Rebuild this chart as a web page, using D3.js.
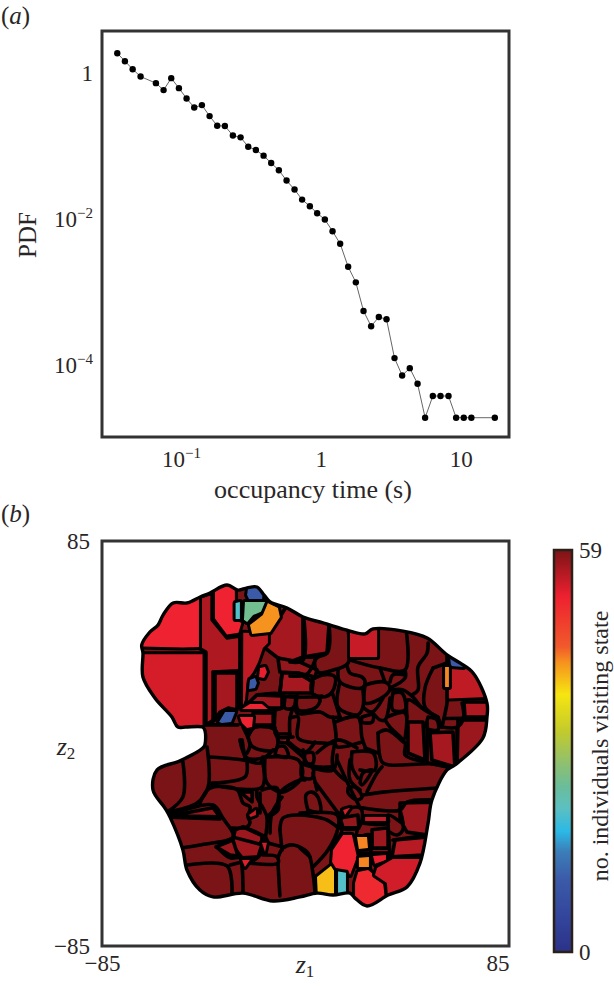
<!DOCTYPE html>
<html><head><meta charset="utf-8">
<script src="https://cdn.jsdelivr.net/npm/d3@7"></script>
<style>html,body{margin:0;padding:0;background:#fff}svg{display:block}text{font-family:"Liberation Serif",serif;fill:#2a2627}</style>
</head><body><div id="c"></div>
<script>
// ---------- panel (a) data ----------
const occupancyTime=[0.0351,0.0398,0.0452,0.0515,0.0663,0.0752,0.0853,0.0968,0.1098,0.1245,0.1413,0.1603,0.1817,0.2062,0.2352,0.2669,0.3027,0.3434,0.3897,0.4416,0.5012,0.5689,0.6486,0.7345,0.8345,0.941,1.068,1.212,1.374,1.567,1.778,2.018,2.287,2.596,2.946,3.36,3.81,4.32,4.91,5.56,6.31,7.16,8.17,9.26,10.5,11.9,17.5];
const pdfValues=[1.858,1.445,1.123,0.89,0.723,0.581,0.846,0.618,0.446,0.336,0.362,0.256,0.189,0.187,0.139,0.131,0.0977,0.0881,0.0736,0.0585,0.0464,0.0336,0.0253,0.01845,0.01496,0.012,0.00984,0.00681,0.00458,0.00222,0.00136,0.000551,0.000341,0.000456,0.000425,0.000125,7.23e-5,9.1e-5,5.56e-5,1.91e-5,3.78e-5,3.78e-5,3.78e-5,1.91e-5,1.91e-5,1.91e-5,1.91e-5];
const xTicksA=[0.1,1,10], yTicksA=[1,0.01,0.0001];
// ---------- panel (b) data: state map in (z1,z2) ----------
const outline=[[-68.4,41.4],[-65,46.8],[-61.6,49.7],[-59.5,53.9],[-55.3,59],[-49.5,59],[-44,61.5],[-39.9,63.2],[-32.8,66.5],[-28.2,64.4],[-24.4,65.3],[-20.3,65.7],[-17.3,62.3],[-14.8,59.4],[-7.7,56.9],[-1,53.1],[7.3,50.6],[18.6,47.2],[24.9,46],[28.2,48.1],[40.7,47.2],[50.8,44.3],[59.1,37.2],[64.5,33.8],[70,29.6],[75.8,17],[75.8,11.1],[74.1,2.3],[62.4,-9],[59.1,-11.1],[52.8,-23.7],[51.2,-33.4],[47.8,-50.2],[42.4,-60.2],[34.5,-63.6],[25.7,-68.2],[20.7,-64.9],[18.6,-62.8],[11.5,-63.6],[4.8,-62.8],[-2.3,-64.4],[-13.6,-66.1],[-26.1,-62.8],[-38.6,-64.4],[-44.1,-61.5],[-49.5,-53.1],[-51.2,-44.7],[-56.6,-30.9],[-58.7,-27.1],[-63.7,-19.5],[-62,-11.1],[-52.4,-7.3],[-43,-2],[-42,-0.5],[-42,5.5],[-43,6.9],[-50,6.9],[-53.3,6.9],[-55.8,11.1],[-62.9,19.1],[-67.9,27.9],[-67.9,38]];
const baseVisits=59;
const stateVisits=[56,56.5,57,52,53.7,52,55,10.6,25,20.5,42.5,10.6,52,52,10.6,52.5,56.5,57,54.5,57.5,56.5,57,55,10.6,43,56,57.2,56.5,57.5,56.5,53,54,54.5,57,57,57.3,40,20.5,52,51,43,43,52.5,54,55.5,57,54.5,53.5,57,57.5,56.5];
const statePolygons=[
[[-44,61.5],[-39,63.2],[-39,51.9],[-32.8,44.3],[-27.4,45.1],[-27.4,15.3],[-35.5,14],[-38.4,9.9],[-41.6,7.8],[-41.6,38.4],[-44,39.7]],
[[-37.8,29.6],[-28.6,29.6],[-28.6,14.1],[-32.3,14.9],[-35.7,13.2],[-37.8,9.9]],
[[-20.3,20.4],[-9.8,20],[-9.8,14.9],[-18,14.9],[-26,14.9]],
[[-70,41],[-65,48],[-61.6,51],[-60,55],[-55.3,60],[-49.5,60],[-44.5,62],[-44.5,40.5],[-51.2,40.3],[-70,40.7]],
[[-70,37.5],[-44.5,37.5],[-43,37.5],[-43,7.8],[-53.3,6],[-56.5,10.5],[-64,19],[-69,27.9]],
[[-37.8,65],[-32.8,67.5],[-29.5,65],[-29.5,51.9],[-26.8,50.6],[-28,46.5],[-32.8,45.8],[-37.8,52.5]],
[[-26,46.5],[-15.7,46],[-15.7,42.2],[-17.8,40.1],[-19.8,34.2],[-21.9,30],[-24.4,26.7],[-25.3,18.3],[-26.1,16]],
[[-24.4,62.3],[-24,65.3],[-20.3,65.7],[-17.8,63.2],[-18.2,60.2],[-23.2,59.8]],
[[-25.3,59.4],[-16.9,59.4],[-16.9,56],[-21.9,53.9],[-24.4,51],[-25.7,51.9]],
[[-29.2,59],[-27.4,59.4],[-27.4,52.3],[-29.2,52.3]],
[[-15.7,59],[-11.5,56.9],[-10.7,53.1],[-14.8,46.8],[-22.3,46],[-23.2,49.7],[-17.8,53.9]],
[[-36.1,9],[-33.6,13.2],[-29.4,13.2],[-31.1,9],[-34.9,8.6]],
[[-26.5,14.5],[-23.2,16.6],[-18.2,16.6],[-15.7,14.5]],
[[-27.4,11.1],[-21.9,11.1],[-22.3,6.9],[-24.4,6.5],[-26.5,8.6]],
[[-23.6,22.9],[-23.2,26.7],[-21.1,27.5],[-20.3,25.4],[-21.1,23.3]],
[[-19.4,27.9],[-19,31.7],[-16.9,32.1],[-16.1,30],[-17.3,27.5]],
[[-10.7,53.1],[-7.7,57.9],[-1,54],[-1,36.3],[-6.5,34.2],[-11.5,35.9],[-16.9,40.1],[-14.8,46.8]],
[[-1,54],[7.3,51.5],[9.8,49.9],[9,38],[-1,36.3]],
[[18.6,48],[24.9,46.5],[29.9,49],[29.9,36.3],[18.6,36.3]],
[[-11.5,35.9],[-2.3,34.2],[4.8,30.9],[4,27.9],[-3.1,29.6],[-10.7,30]],
[[-11.5,0.6],[-11.9,4],[-6.5,4],[-7.7,0.2]],
[[-21.9,12.8],[-21.9,7.7],[-13.5,7.7],[-13.5,12.8]],
[[59.9,31],[65.4,32.5],[71,29.5],[76,19.5],[59.9,18.9]],
[[60.4,36.3],[61.6,37.8],[65,34.5],[66,32.1],[60.8,32.5]],
[[58.3,32.1],[59.9,32.1],[59.9,23.7],[58.3,23.7]],
[[66.2,17.4],[78,17.4],[78,11.1],[66.6,11.1]],
[[63.7,9.9],[77,9.9],[76,2.3],[63.3,-9]],
[[52,4.5],[61.6,4.8],[62.4,-9.9],[52.8,-6.9]],
[[42.8,9],[49.1,9],[49.9,-6.9],[42.8,-4]],
[[-27.4,-20.3],[-22.3,-20.3],[-22.3,-24.5]],
[[-26.5,-48.9],[-23.2,-48.9],[-25.3,-51.8]],
[[-18.2,-41.7],[-16.1,-41.7],[-16.9,-45.5]],
[[-23.6,-30],[-20.7,-27.9],[-20.7,-30],[-22.9,-30.8]],
[[-29.4,-36.2],[-26.1,-35],[-18.2,-38.7],[-18.2,-42.5],[-19.8,-47.6],[-26.5,-48],[-30.7,-42.5]],
[[-37.4,-43.4],[-30.3,-40.5],[-28.2,-47.2],[-31.5,-46.8]],
[[-56.6,-30.4],[-38.6,-27],[-35.7,-30.8]],
[[4.8,-56],[11.1,-51],[11.9,-52.3],[11.9,-65],[5.2,-65]],
[[13.6,-53.5],[16.9,-53.5],[16.9,-65],[13.6,-65]],
[[11.5,-44.7],[15.7,-38.4],[19.4,-38.4],[21.5,-47.6],[18.6,-55.2],[17.8,-53.1],[12.7,-52.3],[11.1,-49.7]],
[[20.7,-58.6],[22,-53.9],[26.1,-53.1],[29.9,-56],[32.4,-58.6],[33.2,-65],[25.7,-69],[20.7,-65]],
[[21.5,-39.2],[25.7,-39.2],[26.1,-43.9],[22.3,-44.3]],
[[22.3,-48],[26.5,-47.6],[26.5,-51.8],[22.3,-51.8]],
[[28.2,-47.2],[33.6,-46.8],[33.6,-48.9],[29,-50.5]],
[[29,-55.2],[29.9,-52.3],[36.5,-48.5],[49,-48.5],[48,-53],[42,-62],[34.5,-65],[34,-58.6]],
[[36.1,-47.6],[37.4,-40.5],[51,-39.2],[49,-46.8]],
[[39.5,-25],[53,-24.6],[53,-33],[51,-38.4],[42.4,-37.2],[39.5,-32.1]],
[[24.9,-30.9],[33.6,-30.9],[33.6,-32.5],[24.9,-32.5]],
[[15.7,-27.9],[18.6,-27],[16.5,-30]],
[[27.8,-36.2],[34.5,-35.4],[34.5,-43.9],[27.8,-43.9]],
[[14.4,-31.3],[21.9,-30],[22.3,-35.4],[15.7,-35.4]],
[[-9.8,29.6],[-3.1,29.6],[3.1,25.8],[2.7,21.2],[-10.7,21.2]]
];
const boundaries=[
[[-6.5,34.2],[-1,35],[-1,55]],[[-1,36.3],[9,38],[9.8,50]],[[9,38],[4,35],[5.2,30],[13.2,31.3],[17.8,33.8],[17.8,48]],[[-6.5,28.3],[0.6,29.2],[4,35]],
[[2.7,26.7],[2.7,21.2],[6.9,19.5],[11.1,21.6],[12.3,27.9],[7.3,28.8],[2.7,26.7]],
[[13.6,30.9],[14.4,25.8],[23.6,23.3],[24.9,25.8],[23.6,27.9],[18.6,29.6],[17.3,33]],
[[14.4,25.8],[13.6,15.3],[21.9,12.1],[24,15.3],[24,22.5]],[[11.1,21.6],[14.4,11.1]],
[[-6.5,19.5],[2.7,19.5],[6.9,19.9]],[[-3.6,19.5],[-3.6,12.8],[6.1,13.2],[10.2,11.1],[14.4,11.1]],
[[-6.5,10.7],[-3.1,11.1],[-3.1,2.3],[7.3,0.2],[12.3,0.6],[11.5,11.1]],[[12.3,9],[21.9,11.1],[23.6,2.3],[24.9,-1.5]],[[12.3,0.6],[13.2,-1.4],[23.6,0.6]],
[[24.9,24.6],[33.2,25.8],[35.3,23.3],[32.4,19.5],[24.9,17],[24.9,24.6]],[[24,15.3],[27.8,13.2],[32.4,19.1]],
[[23.6,11.1],[28.2,12],[27.8,9],[23.6,9],[23.6,11.1]],[[28.2,12.8],[31.1,9.9],[33.2,9.9],[35.3,19.1]],
[[35.3,23.3],[41.6,27.5],[41.6,30.9]],[[36.1,22.5],[40.7,22.5],[44.9,19.5],[48.7,14.9],[55.3,11.1]],
[[36.5,21.2],[36.5,14.1],[41.6,14.1],[40.3,21.2],[36.5,21.2]],
[[33.2,9.9],[35.3,6.9],[41.6,0.2],[41.6,-4.8],[49.9,-7.8],[59.1,-9.9]],[[34,11.1],[41.6,12.8],[41.6,2.3]],[[42.4,11.1],[42.8,18.3],[48.7,14.9]],
[[30.3,4.4],[32,-7.8],[35.3,-9],[53.3,-8.6],[61.6,-10.3]],[[30.3,4.4],[34,5.7],[40.7,0.7]],[[24.9,-1.9],[30.3,-4]],
[[51.2,11.1],[50.8,6.5],[55.3,5.7],[54.9,9.9],[51.2,11.1]],[[55.3,11.1],[57,6.9]],
[[53.3,31.7],[49.9,23.3],[49.9,15.3],[55.3,11.1]],[[53.3,31.7],[59.1,33.8]],[[51.2,42.2],[50.8,38],[47,32.1],[47,22.5],[44.5,20.4]],
[[18.6,35],[31.1,31.7],[41.6,30.9],[42,48]],[[31.1,31.7],[33.2,25.8]],[[35.3,25.8],[36.5,28.8],[41.6,28.8]],
[[59.1,38],[59.1,18.3],[59.1,17],[57,6.9]],[[65.4,17],[66,10.7],[63.3,6.9],[57,6.9]],[[58.3,10.5],[78,10.7]],[[63.3,6.9],[63.3,-9.9]],[[50.8,8.6],[50.8,-6.9]],
[[-1,-2.7],[0.6,-8.2],[4.8,-9.8],[11.5,-9.8]],[[-6.5,0.2],[-0.2,-3.6],[4,0.6]],[[12.3,0.2],[11.5,-9.8],[16.5,-15.3]],
[[19.4,-3.6],[28.2,-4],[29,-11.1],[22.8,-11.1]],[[19.4,-3.6],[19.4,-9.8],[21.9,-14.5]],
[[-51.2,-7.8],[-51.2,-22.4],[-57.9,-28.8]],[[-41.1,-1.5],[-40.7,-18.3],[-45.3,-25],[-57.9,-28.8]],
[[-39.9,-5.7],[-26.1,-6.9],[-19,-8.2],[-17.8,-5.7]],[[-26.5,1.5],[-25.3,-6.1]],[[-24.4,-8.2],[-25.3,-14.1],[-39.1,-16.6]],[[-39.1,-17.4],[-18.2,-18.3],[-17.8,-8.2]],
[[-44.1,-25],[-39.9,-18.7],[-28.6,-19.4],[-26.1,-25],[-23.2,-26.6],[-24,-30.9],[-23.2,-33],[-24.4,-35],[-30.7,-35.5]],
[[-56.6,-30],[-38.6,-25.8],[-34.5,-31.3],[-31.5,-35.5]],[[-56.6,-30.9],[-35.7,-31.7]],[[-52.4,-43.9],[-44.1,-42.6],[-30.3,-39.3],[-31.5,-35.5]],
[[-37,-43.4],[-31.5,-48],[-27.4,-48],[-26.5,-51.8],[-26.1,-63]],[[-49.5,-51],[-32.8,-51.4],[-30.7,-63]],[[-31.5,-51],[-26.5,-49.7]],[[-30.3,-39.3],[-17.8,-42.6]],
[[-26.1,-35],[-18.2,-38.4],[-16.1,-40.5],[-19,-46.8],[-23.2,-49.7],[-26.5,-49.7]],[[-23.2,-50.2],[-11.5,-50.2],[-11.9,-47.6],[-17.8,-46.8]],[[-11.5,-50.2],[-10.7,-64]],
[[-11.5,-48],[-9.4,-43.9],[-5.2,-42.6],[1,-45.9],[3.1,-54.4],[4,-63]],[[-16.1,-41.7],[-9.4,-43.4]],
[[-16.9,-40.5],[-16.1,-30.9],[-17.8,-27],[-20.3,-22.4],[-20.3,-19.5]],[[-19,-20.8],[-19,-29.2]],[[-18.2,-19.5],[-11.9,-18.7],[-11.9,-25.8],[-16.1,-30.9]],
[[-16.1,-30.9],[-11.5,-27.9],[-10.7,-20.8],[-2.3,-15.3],[-0.2,-15.3]],
[[-10.7,-36.2],[-9.4,-31.3],[-3.6,-30],[9,-32.1],[13.2,-35],[15.2,-36.2],[10.2,-43.9]],[[-10.7,-36.2],[-9.8,-44.7]],[[-14.8,-37.6],[-14,-29.2],[-9.8,-22.5]],
[[1,-27.9],[0.2,-21.6],[2.7,-20.4],[5.2,-22.5],[6.1,-28.8],[1,-27.9]],[[3.1,-12.4],[4.8,-19.5]],[[4,-16.2],[15.2,-31.3]],
[[-1.5,-8.2],[-1.5,-14],[2.7,-14.5],[3.1,-10.3],[-0.2,-9],[-1.5,-8.2]],[[-0.2,-4],[-0.2,-8.2],[3.1,-8.2],[3.1,-4],[-0.2,-4]],
[[-16.9,-5.7],[-3.1,-6.9],[-1.5,-14],[-9.8,-20.4],[-16.1,-16.6],[-16.9,-5.7]],[[-27.4,1.5],[-24.4,-6.1],[-16.9,-5.7],[-13.6,-2.7]],
[[-24,2.7],[-21.9,-1.5],[-12.7,-2.7],[-11.5,1.5],[-12.7,5.7],[-21.1,6.9],[-24,2.7]],
[[-12.7,-4.8],[-11.5,-1.4],[-8.6,-1.4],[-7.3,-5.7],[-12.7,-4.8]],[[-7.7,0.2],[-1,-5.7]],[[4.8,-3.9],[13.2,1.5],[21.5,-1.9]],[[3.1,-10.3],[11.5,-11.1],[13.2,-4.8]],
[[-10.7,21.2],[-9.8,29.6]],[[-3.1,29.6],[3.1,25.8]],[[-19.8,20.4],[-9.4,20.4],[-9.8,14.9],[-26.1,15.3]],
[[-8.6,19.5],[-8.6,14.9],[-5.2,14.9],[-4.4,19.5],[-8.6,19.5]],[[-3.6,20.4],[-3.1,14.1],[4,14.9],[6.1,18.3],[4,20.4]],
[[-12.7,14.1],[-12.7,4.4],[-11.5,2.7],[-5.2,2.7]],[[-26.1,6.9],[-23.2,-0.6],[-24.4,-4]],[[-41.1,7.8],[-28.2,7.8]],[[-24,4.8],[-21.1,6.9],[-12.7,6.5]],[[-5.2,14.9],[-6.5,10.7],[-6.5,2.7]],[[-38.6,30],[-28.2,30.5]],[[-38.6,30],[-38.6,9]],
[[15.2,-27.9],[22.8,-27],[23.6,-32],[21.9,-35.4],[15.2,-35.4],[14.4,-31.3],[15.2,-27.9]],
[[23.6,-27],[39.5,-27.9],[42.4,-24.6],[54,-23.7]],[[24,-21.6],[32.4,-20.4],[56,-18.7]],[[25.7,-20.3],[29.9,-12.4],[32,-9.8]],
[[21.9,-35.4],[21.5,-39.2],[27,-38.4],[27,-52.3],[29,-56]],[[23.6,-33.4],[34.5,-33.4],[34.5,-30],[39.5,-32.9]],[[34.5,-34.2],[35.3,-48]],
[[35.3,-37.2],[38.2,-38.4],[40.7,-36.2],[39.5,-27.9]],[[36.5,-40.5],[51.2,-38.4]],[[35.3,-47.6],[47.8,-47.6]],[[21.5,-46],[35.3,-46]],[[-2.3,-43.9],[1.9,-47.6]],
[[-2.3,-29.2],[13.2,-30],[13.6,-35.4],[9.4,-44.7],[3.1,-51.8]],[[17.8,-18.7],[20.7,-18.3],[23.6,-22.5],[21.5,-23.7],[17.8,-20.8],[17.8,-18.7]],
[[13.2,-6.9],[18.6,-18.7],[22.8,-27]],[[22.8,-16.6],[24,-12.4],[27.8,-11.1],[23.6,-17.4],[22.8,-16.6]],[[18.6,-6.9],[18.6,-15.3],[22.8,-19.5]]
];
const colorValues=[59,52.2,44.8,42.5,37.8,32.5,27.7,24.2,21.2,17.7,14.8,10.6,5.3,0];
const colorStops=["#7b1416","#ee2030","#f15a2b","#f6921e","#f6e511","#c4cb2b","#8fc06f","#69bd9b","#5dc0c0","#2bb9e6","#3b7fb9","#3b5aa8","#33469c","#2b3288"];

const W=614,H=987;
const svg=d3.select("#c").append("svg").attr("width",W).attr("height",H);
const frame="#333";
const A={l:102,r:509,t:31,b:437}, B={l:102,r:509,t:541,b:946};
const tickFont=23;

function sup(sel,base,exp){sel.text(null);sel.append("tspan").text(base);
  if(exp){sel.append("tspan").attr("dy",-9).attr("font-size",15).text(exp);}}

// panel a
const xA=d3.scaleLog().domain([0.0273,22.1]).range([A.l,A.r]);
const yA=d3.scaleLog().domain([1.04e-5,3.74]).range([A.b,A.t]);
const gA=svg.append("g");
const line=d3.line().x(i=>xA(occupancyTime[i])).y(i=>yA(pdfValues[i]));
gA.append("path").attr("d",line(d3.range(occupancyTime.length))).attr("fill","none").attr("stroke","#666").attr("stroke-width",1);
gA.selectAll("circle").data(occupancyTime).join("circle").attr("cx",d=>xA(d)).attr("cy",(d,i)=>yA(pdfValues[i])).attr("r",3.2).attr("fill","#000");
gA.append("rect").attr("x",A.l).attr("y",A.t).attr("width",A.r-A.l).attr("height",A.b-A.t).attr("fill","none").attr("stroke",frame).attr("stroke-width",3);

const axXA=gA.append("g").attr("transform",`translate(0,${A.b})`).call(d3.axisBottom(xA).tickValues(xTicksA).tickSize(0).tickPadding(14));
axXA.select(".domain").remove();
axXA.selectAll("text").attr("font-size",tickFont).attr("font-family","Liberation Serif").attr("fill","#2a2627")
  .each(function(d){const s=d3.select(this); if(d===0.1){sup(s,"10","−1");} else s.text(d);});
const axYA=gA.append("g").attr("transform",`translate(${A.l},0)`).call(d3.axisLeft(yA).tickValues(yTicksA).tickSize(0).tickPadding(9));
axYA.select(".domain").remove();
axYA.selectAll("text").attr("font-size",tickFont).attr("font-family","Liberation Serif").attr("fill","#2a2627")
  .each(function(d){const s=d3.select(this); if(d===1) s.text("1"); else sup(s,"10","−"+Math.round(-Math.log10(d)));});
svg.append("text").attr("x",313).attr("y",498).attr("text-anchor","middle").attr("font-size",26).text("occupancy time (s)");
svg.append("text").attr("transform","translate(36,235) rotate(-90)").attr("text-anchor","middle").attr("font-size",25).text("PDF");
function panel(x,y,l){const t=svg.append("text").attr("x",x).attr("y",y).attr("font-size",25);
  t.append("tspan").text("(");t.append("tspan").attr("font-style","italic").text(l);t.append("tspan").text(")");}
panel(1,24,"a");panel(1,522,"b");

// panel b
const xB=d3.scaleLinear().domain([-85,85]).range([B.l,B.r]);
const yB=d3.scaleLinear().domain([-85,85]).range([B.b,B.t]);
const color=d3.scaleLinear().domain(colorValues).range(colorStops).clamp(true);
const path=d3.line().x(d=>xB(d[0])).y(d=>yB(d[1]));
const curved=d3.line().x(d=>xB(d[0])).y(d=>yB(d[1])).curve(d3.curveCatmullRom.alpha(0.5));
const outlineCurve=d3.line().x(d=>xB(d[0])).y(d=>yB(d[1])).curve(d3.curveCatmullRomClosed.alpha(0.5));
const gB=svg.append("g");
const sw=3.6;
svg.append("clipPath").attr("id","mapclip").append("path").attr("d",outlineCurve(outline));
gB.append("path").attr("d",outlineCurve(outline)).attr("fill",color(baseVisits));
const inner=gB.append("g").attr("clip-path","url(#mapclip)");
const states=statePolygons.map((p,i)=>({p,v:stateVisits[i]}));
inner.selectAll("path.s").data(states.filter(d=>d.v>=55.5)).join("path").attr("class","s").attr("d",d=>path(d.p)+"Z")
  .attr("fill",d=>color(d.v)).attr("stroke","#000").attr("stroke-width",sw).attr("stroke-linejoin","round");
inner.selectAll("path.b").data(boundaries).join("path").attr("class","b").attr("d",d=>curved(d))
  .attr("fill","none").attr("stroke","#000").attr("stroke-width",sw).attr("stroke-linejoin","round").attr("stroke-linecap","round");
inner.selectAll("path.h").data(states.filter(d=>d.v<55.5)).join("path").attr("class","h").attr("d",d=>path(d.p)+"Z")
  .attr("fill",d=>color(d.v)).attr("stroke","#000").attr("stroke-width",6).attr("stroke-linejoin","round").attr("paint-order","stroke");
gB.append("path").attr("d",outlineCurve(outline)).attr("fill","none").attr("stroke","#000").attr("stroke-width",3.4).attr("stroke-linejoin","round");
gB.append("rect").attr("x",B.l).attr("y",B.t).attr("width",B.r-B.l).attr("height",B.b-B.t).attr("fill","none").attr("stroke",frame).attr("stroke-width",3);
const axXB=gB.append("g").attr("transform",`translate(0,${B.b})`).call(d3.axisBottom(xB).tickValues([-85,85]).tickSize(0).tickPadding(9).tickFormat(d=>d<0?"−85":"85"));
axXB.select(".domain").remove();
axXB.selectAll("text").attr("font-size",tickFont).attr("font-family","Liberation Serif").attr("fill","#2a2627").attr("text-anchor",d=>d<0?"middle":"end");
const axYB=gB.append("g").attr("transform",`translate(${B.l},0)`).call(d3.axisLeft(yB).tickValues([-85,85]).tickSize(0).tickPadding(12).tickFormat(d=>d<0?"−85":"85"));
axYB.select(".domain").remove();
axYB.selectAll("text").attr("font-size",tickFont).attr("font-family","Liberation Serif").attr("fill","#2a2627");
function zlab(x,y,n){const t=svg.append("text").attr("x",x).attr("y",y).attr("text-anchor","middle").attr("font-size",26);
  t.append("tspan").attr("font-style","italic").text("z");t.append("tspan").attr("dy",4).attr("font-size",17).text(n);}
zlab(305,973,"1");zlab(66,755,"2");

// colourbar
const C={l:554,r:572,t:550,b:952};
const cScale=d3.scaleLinear().domain([0,59]).range([C.b,C.t]);
const defs=svg.append("defs");
const grad=defs.append("linearGradient").attr("id","cb").attr("x1",0).attr("x2",0).attr("y1",0).attr("y2",1);
colorValues.forEach((v,i)=>grad.append("stop").attr("offset",1-v/59).attr("stop-color",colorStops[i]));
svg.append("rect").attr("x",C.l).attr("y",C.t).attr("width",C.r-C.l).attr("height",C.b-C.t).attr("fill","url(#cb)").attr("stroke","#2a2018").attr("stroke-width",2.5);
const axC=svg.append("g").attr("transform",`translate(${C.r},0)`).call(d3.axisRight(cScale).tickValues([0,59]).tickSize(0).tickPadding(7));
axC.select(".domain").remove();
axC.selectAll("text").attr("font-size",tickFont).attr("font-family","Liberation Serif").attr("fill","#2a2627");
svg.append("text").attr("transform","translate(608,746) rotate(-90)").attr("text-anchor","middle").attr("font-size",24).text("no. individuals visiting state");
</script></body></html>
